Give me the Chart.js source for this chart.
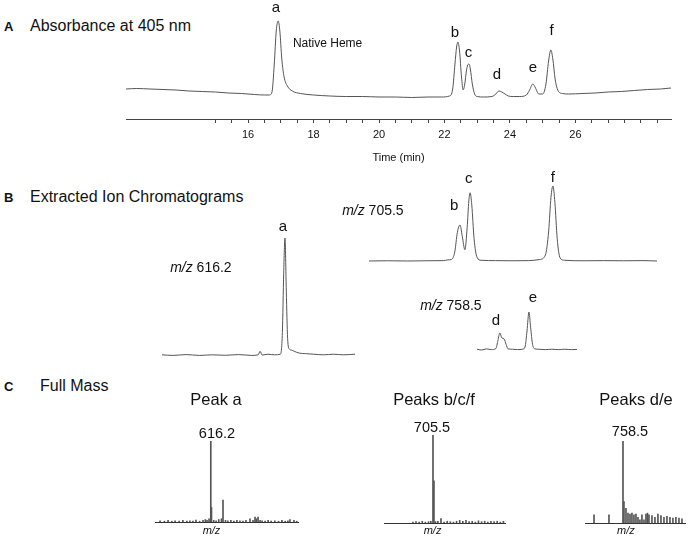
<!DOCTYPE html>
<html><head><meta charset="utf-8">
<script src="https://cdn.jsdelivr.net/npm/chart.js@4/dist/chart.umd.min.js"></script>
<style>
html,body{margin:0;padding:0;background:#fff;}
body{width:688px;height:538px;position:relative;overflow:hidden;font-family:"Liberation Sans",Arial,Helvetica,sans-serif;color:#111;}
.t{position:absolute;white-space:nowrap;line-height:1;}
.big{font-size:16px;}
.let{font-size:13px;font-weight:bold;}
</style></head><body>
<div class="t let" style="left:4px;top:20px">A</div>
<div class="t big" style="left:30px;top:17.5px">Absorbance at 405 nm</div>
<div class="t let" style="left:4px;top:191px">B</div>
<div class="t big" style="left:30px;top:188.5px">Extracted Ion Chromatograms</div>
<div class="t let" style="left:4px;top:380px">C</div>
<div class="t big" style="left:40px;top:377.5px">Full Mass</div>
<script>
// ---------- DATA ----------
// Panel A: absorbance at 405 nm vs time (min)
const A_TIME = [12.27,12.6,13.0,13.4,13.8,14.2,14.6,15.0,15.4,15.8,16.2,16.5,16.65,16.73,16.8,16.86,16.92,16.97,17.03,17.1,17.2,17.35,17.6,18.0,18.5,19.0,19.5,20.0,20.5,21.0,21.5,21.9,22.15,22.25,22.32,22.37,22.41,22.46,22.52,22.57,22.62,22.67,22.71,22.75,22.79,22.85,22.92,23.0,23.2,23.45,23.57,23.66,23.75,23.85,23.95,24.1,24.3,24.5,24.6,24.7,24.78,24.88,25.0,25.1,25.18,25.25,25.31,25.38,25.46,25.6,25.8,26.2,26.6,27.0,27.4,27.8,28.2,28.6,28.92];
const A_ABS  = [30,30.5,30,29.5,29,28,27.5,27,26,25.5,24.5,24,24,27,55,88,98,88,60,42,33,28,25.5,24,23,22.5,22.5,22,22,21.5,22,22,23,30,55,72,77,68,42,29,35,48,54,55,50,35,25,22.5,22,22.5,25,28,27,25,23,22.5,22.5,24,29,35,31,25,25,35,58,69,60,40,29,25.5,25,25.5,26,27,27.5,28.5,29.5,30,31];
const A_TICKS = [15,15.5,16,16.5,17,17.5,18,18.5,19,19.5,20,20.5,21,21.5,22,22.5,23,23.5,24,24.5,25,25.5,26,26.5,27,27.5,28,28.5];
const A_TICK_LABELS = [16,18,20,22,24,26];

// Panel B: extracted ion chromatograms (relative intensity vs time)
const B1_TIME = [13.16,13.5,13.9,14.3,14.7,15.1,15.5,15.9,16.1,16.16,16.22,16.4,16.6,16.78,16.84,16.88,16.92,16.96,17.0,17.05,17.12,17.2,17.35,17.55,17.8,18.1,18.4,18.7,19.06];
const B1_INT  = [1,0.5,1.2,0.5,1,0.6,1.2,0.5,1,4,0.8,1.5,1,1.5,20,70,100,55,15,6,5,4,2.5,2,1.5,1,1.5,1,1.5];
const B2_TIME = [19.63,20.2,20.8,21.4,21.9,22.04,22.15,22.25,22.33,22.41,22.48,22.56,22.63,22.68,22.72,22.77,22.84,22.93,23.05,23.5,24.0,24.5,24.85,25.02,25.12,25.19,25.25,25.31,25.38,25.47,25.6,26.2,26.8,27.4,28.0,28.43];
const B2_INT  = [0,0.3,0,0.3,0.5,1.5,2,12,38,48,33,15,45,80,91,75,30,5,1,0.5,0.3,0.5,2,8,40,85,100,78,30,4,1,0.3,0.5,0.3,0.5,0];
const B3_TIME = [23.11,23.25,23.4,23.55,23.69,23.75,23.81,23.87,23.94,24.0,24.06,24.2,24.35,24.5,24.58,24.64,24.70,24.75,24.81,24.88,25.0,25.2,25.4,25.6,25.8,26.0,26.17];
const B3_INT  = [2,0,3,1,4,25,45,32,29,15,3,2,1,2,8,50,100,60,15,3,2,1,2,1,2,1,1.5];

// Panel C: full mass spectra (m/z, relative abundance %)
const C1_MZ  = [465,478,489,500,510,522,533,545,554,563,572,583,593,600,605,611,616.2,618.2,625,632,640,648,652.6,660,667,676,685,694,703,712,721,733,742,748,752,757,763,769,778,787,796,807,818,828,838,846,852,864,872];
const C1_INT = [1.5,1,2,1,1.5,1,2,1,1.5,1,2.5,1,2,3,2,4,100,18,2,1.5,3,4,27,2,1.5,2,1,2,1.5,1,2,4,2,6,4,6,2,1.5,1,2,1,1.5,1,2,1,1.5,3,2,1];
const C2_MZ  = [654,662,670,678,686,694,700,705.5,708,712,718,726,734,742,750,758,766,774,782,790,798,806,814,822,830,838,846,854,862,870,878,886];
const C2_INT = [1,1.5,1,2,1,1.5,2,100,48,1.5,2,5,1,2,1.5,1,2,3,2,3,1.5,2,1,2.5,1.5,2,1,2,1.5,2,1,2];
const C3_MZ  = [713.9,736.9,758.5,760.0,763.1,766.2,769.3,772.3,775.4,778.5,781.6,784.6,787.7,790.8,793.9,796.2,798.5,803.1,807.7,812.3,817.0,821.6,826.2,830.8,835.4,840.0,844.7,849.3];
const C3_INT = [10,10,100,26,18,12,11,12,10,11,7,4,10,4,11,12,10,9,7,11,9,7,8,7,6,7,6,5];

// ---------- RENDERING ----------
const FONT = '"Liberation Sans", Arial, Helvetica, sans-serif';
Chart.defaults.font.family = FONT;
Chart.defaults.animation = false;
const NOTES = {};
Chart.register({
  id: 'notes',
  afterDatasetsDraw(chart) {
    const items = NOTES[chart.canvas.id]; if (!items) return;
    const ctx = chart.ctx, xs = chart.scales.x, ys = chart.scales.y;
    ctx.save();
    ctx.textBaseline = 'alphabetic';
    ctx.textAlign = 'left';
    ctx.fillStyle = '#111';
    for (const it of items) {
      const px = xs.getPixelForValue(it.x), py = ys.getPixelForValue(it.y);
      const parts = it.parts || [{text: it.text, font: it.font}];
      let total = 0;
      parts.forEach(p => { ctx.font = p.font; total += ctx.measureText(p.text).width; });
      let x0 = it.align === 'left' ? px : px - total / 2;
      parts.forEach(p => { ctx.font = p.font; ctx.fillText(p.text, x0, py); x0 += ctx.measureText(p.text).width; });
    }
    ctx.restore();
  }
});

function canvasAt(id, left, top, w, h) {
  const c = document.createElement('canvas');
  c.id = id; c.width = w; c.height = h;
  c.style.cssText = `position:absolute;left:${left}px;top:${top}px;width:${w}px;height:${h}px`;
  document.body.appendChild(c);
  return c;
}
const pts = (xs, ys) => xs.map((x, i) => ({x, y: ys[i]}));
const letter = '15px ' + FONT;
const mzLabel = (x, y, val) => ({x, y, align: 'left', parts: [{text: 'm/z', font: 'italic 14px ' + FONT}, {text: ' ' + val, font: '14px ' + FONT}]});

function traceChart(id, box, pad, xsArr, ysArr, xmin, xmax, color, notes) {
  const c = canvasAt(id, ...box);
  NOTES[id] = notes;
  return new Chart(c, {
    type: 'line',
    data: {datasets: [{data: pts(xsArr, ysArr), borderColor: color, borderWidth: 1, pointRadius: 0, cubicInterpolationMode: 'monotone', clip: false}]},
    options: {
      responsive: false, animation: false, layout: {padding: pad},
      plugins: {legend: {display: false}, tooltip: {enabled: false}},
      scales: {
        x: {type: 'linear', min: xmin, max: xmax, display: false},
        y: {min: 0, max: 100, display: false}
      }
    }
  });
}

// Panel A
(function () {
  const c = canvasAt('chartA', 116, 0, 566, 174);
  NOTES.chartA = [
    {x: 16.85, y: 107, text: 'a', font: letter},
    {x: 22.32, y: 82, text: 'b', font: letter},
    {x: 22.73, y: 62, text: 'c', font: letter},
    {x: 23.60, y: 40, text: 'd', font: letter},
    {x: 24.70, y: 47, text: 'e', font: letter},
    {x: 25.27, y: 84, text: 'f', font: letter},
    {x: 17.37, y: 72, text: 'Native Heme', font: '12px ' + FONT, align: 'left'}
  ];
  new Chart(c, {
    type: 'line',
    data: {datasets: [{data: pts(A_TIME, A_ABS), borderColor: '#555', borderWidth: 1, pointRadius: 0, cubicInterpolationMode: 'monotone', clip: false}]},
    options: {
      responsive: false, animation: false,
      layout: {padding: {left: 10, right: 11, top: 19, bottom: 0}},
      plugins: {legend: {display: false}, tooltip: {enabled: false}},
      scales: {
        x: {
          type: 'linear', min: 12.27, max: 28.92,
          afterBuildTicks: s => { s.ticks = A_TICKS.map(v => ({value: v})); },
          afterFit: s => { s.height = 55; },
          grid: {display: true, drawOnChartArea: false, drawTicks: true, tickLength: 4, color: '#444', lineWidth: 1},
          border: {display: true, color: '#444', width: 1},
          ticks: {autoSkip: false, maxRotation: 0, padding: 5, color: '#111', font: {size: 11},
            callback: v => A_TICK_LABELS.includes(v) ? String(v) : ''},
          title: {display: true, text: 'Time (min)', color: '#111', font: {size: 11}, padding: {top: 0, bottom: 9}}
        },
        y: {min: 0, max: 100, display: false}
      }
    }
  });
})();

// Panel B
traceChart('chartB1', [150, 215, 215, 150], {left: 12, right: 10, top: 23, bottom: 9}, B1_TIME, B1_INT, 13.16, 19.06, '#555', [
  {x: 16.86, y: 106, text: 'a', font: letter},
  mzLabel(13.41, 71, '616.2')
]);
traceChart('chartB2', [335, 160, 330, 110], {left: 34, right: 8, top: 26, bottom: 9}, B2_TIME, B2_INT, 19.63, 28.43, '#555', [
  {x: 22.23, y: 68, text: 'b', font: letter},
  {x: 22.68, y: 104, text: 'c', font: letter},
  {x: 25.25, y: 105, text: 'f', font: letter},
  mzLabel(18.81, 61, '705.5')
]);
traceChart('chartB3', [410, 280, 175, 80], {left: 67, right: 8, top: 32, bottom: 10}, B3_TIME, B3_INT, 23.11, 26.17, '#555', [
  {x: 23.69, y: 66, text: 'd', font: letter},
  {x: 24.82, y: 126, text: 'e', font: letter},
  mzLabel(21.37, 105, '758.5')
]);

// Panel C
function specChart(id, box, pad, mz, inten, xmin, xmax, title, label, pos) {
  const c = canvasAt(id, ...box);
  NOTES[id] = [
    {x: pos.tx, y: pos.ty, text: title, font: '16.5px ' + FONT},
    {x: pos.lx, y: pos.ly, text: label, font: '14.5px ' + FONT},
    {x: pos.mx, y: pos.my, text: 'm/z', font: 'italic 11px ' + FONT}
  ];
  return new Chart(c, {
    type: 'bar',
    data: {datasets: [{data: pts(mz, inten), backgroundColor: '#555', borderWidth: 0, barThickness: 1, grouped: false}]},
    options: {
      responsive: false, animation: false, layout: {padding: pad},
      plugins: {legend: {display: false}, tooltip: {enabled: false}},
      scales: {
        x: {type: 'linear', min: xmin, max: xmax, offset: false, display: true,
          afterFit: s => { s.height = 0; },
          grid: {display: false}, ticks: {display: false},
          border: {display: true, color: '#333', width: 1}},
        y: {min: 0, max: 100, display: false}
      }
    }
  });
}
specChart('chartC1', [145, 380, 165, 158], {left: 10, right: 12, top: 61, bottom: 16}, C1_MZ, C1_INT, 450, 876, 'Peak a', '616.2',
  {tx: 631.7, ty: 144, lx: 634.7, ly: 104, mx: 618.3, my: -15});
specChart('chartC2', [374, 380, 141, 158], {left: 10, right: 10, top: 55, bottom: 15}, C2_MZ, C2_INT, 580, 890, 'Peaks b/c/f', '705.5',
  {tx: 708.1, ty: 134, lx: 703, ly: 103, mx: 704.3, my: -12.5});
specChart('chartC3', [575, 380, 113, 158], {left: 10, right: 3, top: 61, bottom: 15}, C3_MZ, C3_INT, 700, 854, 'Peaks d/e', '758.5',
  {tx: 778.5, ty: 144, lx: 769.3, ly: 106, mx: 763.1, my: -13.4});
</script>
</body></html>
